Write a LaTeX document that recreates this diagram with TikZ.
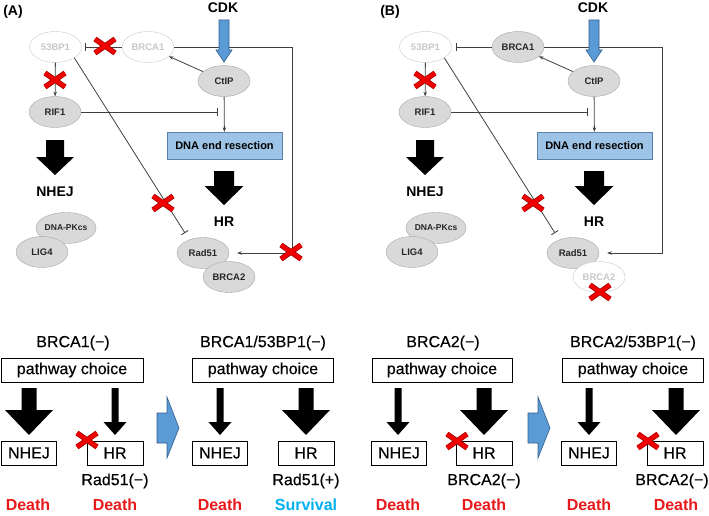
\documentclass[tikz,border=0pt]{standalone}
\usepackage{fontspec}
\setmainfont{Liberation Sans}
\newfontfamily\gothicfont{Liberation Sans}[FakeBold=0.35]
\usetikzlibrary{arrows.meta,shapes.geometric}
\definecolor{ln}{HTML}{404040}
\definecolor{elf}{HTML}{D9D9D9}
\definecolor{eld}{HTML}{A6A6A6}
\definecolor{ghost}{HTML}{C8C8C8}
\definecolor{boxblue}{HTML}{9DC3E6}
\definecolor{boxedge}{HTML}{5A7FA8}
\definecolor{arblue}{HTML}{5B9BD5}
\definecolor{arbd}{HTML}{2F5F8F}
\definecolor{xred}{HTML}{F00000}
\definecolor{xdark}{HTML}{A00000}
\definecolor{dred}{HTML}{E8191B}
\definecolor{surv}{HTML}{00B0F0}
\newcommand{\blockdown}[7]{%
  \path[#7] (#1-#4,#2) -- (#1+#4,#2) -- (#1+#4,#6) -- (#1+#5,#6) -- (#1,#3) -- (#1-#5,#6) -- (#1-#4,#6) -- cycle;}
\newcommand{\redx}[2]{%
  \draw[xdark,line width=5.4pt] (#1-10,#2-7) -- (#1+10,#2+7) (#1-10,#2+7) -- (#1+10,#2-7);
  \draw[xred,line width=3.8pt] (#1-10,#2-7) -- (#1+10,#2+7) (#1-10,#2+7) -- (#1+10,#2-7);}
\tikzset{
  gnode/.style={ellipse, draw=eld, fill=elf, minimum width=52pt, minimum height=31pt, inner sep=0pt,
    font=\bfseries\fontsize{9.5}{10}\selectfont, text=black!85},
  ghostnode/.style={gnode, draw=ghost, fill=white, text=ghost},
  conn/.style={draw=ln, line width=0.8pt},
  act/.style={conn, -{Stealth[length=4.5pt,width=3.5pt]}},
  inh/.style={conn, -{Bar[width=8pt,line width=0.9pt]}},
  lab/.style={font=\bfseries\fontsize{14}{16}\selectfont},
  resect/.style={draw=boxedge, fill=boxblue, minimum width=115pt, minimum height=27pt, inner sep=0pt,
    font=\bfseries\fontsize{11}{12}\selectfont},
  bbox/.style={draw=black, line width=0.8pt, minimum height=24pt, inner sep=0pt, font=\gothicfont\fontsize{16}{18}\selectfont},
  ttl/.style={font=\gothicfont\fontsize{16}{18}\selectfont},
  dth/.style={font=\bfseries\fontsize{16}{18}\selectfont, text=dred},
  barrow/.style={fill=black},
  bluearrow/.style={fill=arblue, draw=arbd, line width=0.6pt},
}
\begin{document}
\begin{tikzpicture}[x=1pt,y=-1pt]
\useasboundingbox (0,0) rectangle (709,516);
% ---------------- Panel A ----------------
\node[lab] (labA) at (13,12) {(A)};
\node[lab] (cdkA) at (223,8) {CDK};
\node[ghostnode] (bpA) at (55.5,47) {53BP1};
\node[ghostnode] (b1A) at (148,47) {BRCA1};
\node[gnode] (ctA) at (224,81) {CtIP};
\node[gnode] (rfA) at (55,112) {RIF1};
\node[resect] (drA) at (224.5,145.5) {DNA end resection};
\node[lab] (nhA) at (55,192) {NHEJ};
\node[lab] (hrA) at (224,222) {HR};
\node[gnode, font=\bfseries\fontsize{8.5}{9}\selectfont] (pkA) at (66,228) {DNA-PKcs};
\node[gnode] (lgA) at (42,252) {LIG4};
\node[gnode] (r5A) at (203,253) {Rad51};
\node[gnode] (b2A) at (229,277) {BRCA2};
\coordinate (cA1) at (292,47);
\coordinate (cA2) at (292,253);
\coordinate (riA) at (218,112);
\coordinate (dgA) at (185,233);
\draw[inh, shorten >=3pt] (b1A) -- (bpA);
\draw[act, shorten >=8pt] (b1A.east) -- (cA1) -- (cA2) -- (r5A.east);
\draw[act] (ctA) -- (b1A);
\draw[act] (bpA) -- (rfA);
\draw[inh] (rfA) -- (riA);
\draw[act] (ctA) -- (drA);
\draw[inh] (bpA.-30) -- (dgA);
\blockdown{55}{140}{175}{9}{19}{157}{barrow}
\blockdown{224}{171}{205}{10}{19.5}{186}{barrow}
\blockdown{224}{20}{62}{5}{8}{50}{bluearrow}
\redx{105}{46}
\redx{55}{80}
\redx{163}{203}
\redx{291}{252}
% ---------------- Panel B ----------------
\begin{scope}[xshift=370pt]
\node[lab] (labB) at (20,12) {(B)};
\node[lab] (cdkB) at (223,8) {CDK};
\node[ghostnode] (bpB) at (55.5,47) {53BP1};
\node[gnode] (b1B) at (148,47) {BRCA1};
\node[gnode] (ctB) at (224,81) {CtIP};
\node[gnode] (rfB) at (55,112) {RIF1};
\node[resect] (drB) at (224.5,145.5) {DNA end resection};
\node[lab] (nhB) at (55,192) {NHEJ};
\node[lab] (hrB) at (224,222) {HR};
\node[gnode, font=\bfseries\fontsize{8.5}{9}\selectfont] (pkB) at (66,228) {DNA-PKcs};
\node[gnode] (lgB) at (42,252) {LIG4};
\node[gnode] (r5B) at (203,253) {Rad51};
\node[ghostnode] (b2B) at (229,277) {BRCA2};
\coordinate (cB1) at (292,47);
\coordinate (cB2) at (292,253);
\coordinate (riB) at (218,112);
\coordinate (dgB) at (185,233);
\draw[inh, shorten >=4pt] (b1B) -- (bpB);
\draw[act, shorten >=8pt] (b1B.east) -- (cB1) -- (cB2) -- (r5B.east);
\draw[act] (ctB) -- (b1B);
\draw[act] (bpB) -- (rfB);
\draw[inh] (rfB) -- (riB);
\draw[act] (ctB) -- (drB);
\draw[inh] (bpB.-30) -- (dgB);
\blockdown{55}{140}{175}{9}{19}{157}{barrow}
\blockdown{224}{171}{205}{10}{19.5}{186}{barrow}
\blockdown{224}{20}{62}{5}{8}{50}{bluearrow}
\redx{55}{80}
\redx{163}{203}
\redx{230}{292}
\end{scope}
% ---------------- Bottom ----------------
\node[ttl] (t1) at (73,343) {BRCA1(−)};
\node[ttl] (t2) at (263,343) {BRCA1/53BP1(−)};
\node[ttl] (t3) at (443,343) {BRCA2(−)};
\node[ttl] (t4) at (633,343) {BRCA2/53BP1(−)};
\node[bbox, minimum width=142pt] (pc1) at (72,370) {pathway choice};
\node[bbox, minimum width=141pt] (pc2) at (263,370) {pathway choice};
\node[bbox, minimum width=140pt] (pc3) at (442,370) {pathway choice};
\node[bbox, minimum width=141pt] (pc4) at (633,370) {pathway choice};
\node[bbox, minimum width=55pt] (n1) at (29,453) {NHEJ};
\node[bbox, minimum width=56pt] (h1) at (115,453) {HR};
\node[bbox, minimum width=55pt] (n2) at (220,453) {NHEJ};
\node[bbox, minimum width=56pt] (h2) at (306,453) {HR};
\node[bbox, minimum width=55pt] (n3) at (399,453) {NHEJ};
\node[bbox, minimum width=56pt] (h3) at (484,453) {HR};
\node[bbox, minimum width=55pt] (n4) at (589,453) {NHEJ};
\node[bbox, minimum width=56pt] (h4) at (675,453) {HR};
\node[ttl] (s1) at (115,481) {Rad51(−)};
\node[ttl] (s2) at (306,481) {Rad51(+)};
\node[ttl] (s3) at (484,481) {BRCA2(−)};
\node[ttl] (s4) at (672,481) {BRCA2(−)};
\node[dth] (d1) at (28,505) {Death};
\node[dth] (d2) at (115,505) {Death};
\node[dth] (d3) at (220,505) {Death};
\node[dth, text=surv] (d4) at (306,505) {Survival};
\node[dth] (d5) at (398,505) {Death};
\node[dth] (d6) at (484,505) {Death};
\node[dth] (d7) at (589,505) {Death};
\node[dth] (d8) at (676,505) {Death};
\blockdown{29}{388}{435}{7.5}{24}{410}{barrow}
\blockdown{115}{388}{435}{3.5}{11.5}{422}{barrow}
\blockdown{220}{388}{435}{3.5}{11.5}{422}{barrow}
\blockdown{306}{388}{435}{7.5}{24}{410}{barrow}
\blockdown{398}{388}{435}{3.5}{11.5}{422}{barrow}
\blockdown{484}{388}{435}{7.5}{24}{410}{barrow}
\blockdown{589}{388}{435}{3.5}{11.5}{422}{barrow}
\blockdown{676}{388}{435}{7.5}{24}{410}{barrow}
\path[bluearrow] (157,413) -- (167,413) -- (167,397) -- (179,428) -- (167,458) -- (167,443) -- (157,443) -- cycle;
\path[bluearrow] (528,413) -- (538,413) -- (538,397) -- (550,428) -- (538,458) -- (538,443) -- (528,443) -- cycle;
\redx{87}{440}
\redx{457}{441}
\redx{648}{441}
\end{tikzpicture}
\end{document}
